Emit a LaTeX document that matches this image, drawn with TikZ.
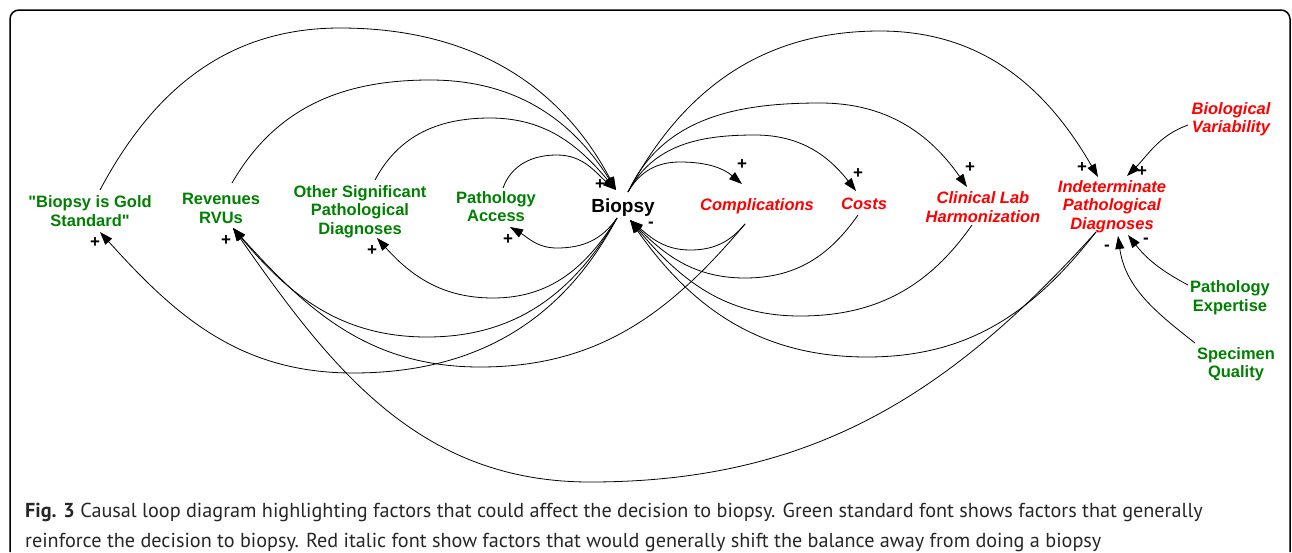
\documentclass[tikz,border=0pt]{standalone}
\usepackage{fontspec}
\setmainfont{Liberation Sans}
\newfontfamily\capfont{PT Sans}
\usetikzlibrary{arrows.meta}
\definecolor{cgreen}{RGB}{0,128,0}
\definecolor{cred}{RGB}{255,0,0}
\begin{document}
\begin{tikzpicture}[x=1pt,y=1pt,
  fac/.style={font=\bfseries\fontsize{16.5}{18.5}\selectfont, align=center, inner sep=0pt},
  gfac/.style={fac, text=cgreen},
  rfac/.style={fac, text=cred, font=\bfseries\itshape\fontsize{16.5}{18.5}\selectfont},
  sgn/.style={font=\bfseries\fontsize{17}{17}\selectfont, inner sep=0pt, text height=0.58em, text depth=0pt},
  link/.style={line width=0.8pt, -{Triangle[length=13pt,width=9pt]}},
  captxt/.style={anchor=base west, inner sep=0pt, font=\capfont\fontsize{20.2}{30}\selectfont, text=black!85},
]
\useasboundingbox (0,0) rectangle (1292,-552);
\draw[line width=1.5pt, rounded corners=9pt] (10,-552) -- (10,-10) -- (1290,-10) -- (1290,-552);

% factors
\node[gfac] (gold) at (90,-211) {\textquotedbl Biopsy is Gold\\Standard\textquotedbl};
\node[gfac] (rvu) at (221,-208.5) {Revenues\\RVUs};
\node[gfac] (other) at (360,-211.5) {Other Significant\\Pathological\\Diagnoses};
\node[gfac] (pa) at (496,-206.5) {Pathology\\Access};
\node[fac, font=\bfseries\fontsize{19}{20}\selectfont] (bio) at (623,-208) {Biopsy};
\node[rfac] (comp) at (757,-206) {Complications};
\node[rfac] (costs) at (864,-204) {Costs};
\node[rfac] (clin) at (983,-207) {Clinical Lab\\Harmonization};
\node[rfac] (indet) at (1112,-206.7) {Indeterminate\\Pathological\\Diagnoses};
\node[rfac] (biovar) at (1231,-119) {Biological\\Variability};
\node[gfac] (pexp) at (1230,-297.7) {Pathology\\Expertise};
\node[gfac] (spec) at (1236,-364) {Specimen\\Quality};

% connector end points
\coordinate (goldT) at ([shift={(10,21)}]gold.center);
\coordinate (goldB) at ([shift={(10,-21)}]gold.center);
\coordinate (rvuT) at ([shift={(11,25.5)}]rvu.center);
\coordinate (rvuB) at ([shift={(12,-19.5)}]rvu.center);
\coordinate (otherT) at ([shift={(15,31.5)}]other.center);
\coordinate (otherB) at ([shift={(17,-26.5)}]other.center);
\coordinate (paT) at ([shift={(7,18.5)}]pa.center);
\coordinate (paB) at ([shift={(14,-20.5)}]pa.center);
\coordinate (bioTL) at ([shift={(-7,18)}]bio.center);
\coordinate (bioTR) at ([shift={(5,16)}]bio.center);
\coordinate (bioBL) at ([shift={(-6,-10)}]bio.center);
\coordinate (bioBR) at ([shift={(7,-12)}]bio.center);
\coordinate (compT) at ([shift={(-15,22)}]comp.center);
\coordinate (compB) at ([shift={(-12,-18)}]comp.center);
\coordinate (costsT) at ([shift={(-8,13)}]costs.center);
\coordinate (costsB) at ([shift={(-6,-11)}]costs.center);
\coordinate (clinT) at ([shift={(-16,20)}]clin.center);
\coordinate (clinB) at ([shift={(-11,-18)}]clin.center);
\coordinate (indetTL) at ([shift={(-14,29.7)}]indet.center);
\coordinate (indetTR) at ([shift={(15,30.7)}]indet.center);
\coordinate (indetB) at ([shift={(-16,-25.3)}]indet.center);
\coordinate (indetBS) at ([shift={(6,-29.3)}]indet.center);
\coordinate (indetBR) at ([shift={(16,-28.3)}]indet.center);
\coordinate (biovarS) at ([shift={(-43,-6)}]biovar.center);
\coordinate (pexpS) at ([shift={(-42,12.7)}]pexp.center);
\coordinate (specS) at ([shift={(-41,21)}]spec.center);

% into Biopsy (top left)
\draw[link] (goldT) to[out=62,in=180] (340,-28) to[out=0,in=118] (bioTL);
\draw[link] (rvuT) to[out=60,in=180] (430,-80) to[out=0,in=122] (bioTL);
\draw[link] (otherT) to[out=62,in=180] (490,-118) to[out=0,in=130] (bioTL);
\draw[link] (paT) to[out=70,in=180] (557,-155) to[out=0,in=140] (bioTL);
% from Biopsy (top right)
\draw[link] (bioTR) to[out=60,in=180] (680,-162) to[out=0,in=140] (compT);
\draw[link] (bioTR) to[out=62,in=180] (755,-135) to[out=0,in=128] (costsT);
\draw[link] (bioTR) to[out=65,in=180] (820,-103) to[out=0,in=125] (clinT);
\draw[link] (bioTR) to[out=62,in=180] (880,-31) to[out=0,in=120] (indetTL);
% from Biopsy (bottom left)
\draw[link] (bioBL) to[out=235,in=0] (557,-248) to[out=180,in=330] (paB);
\draw[link] (bioBL) to[out=238,in=0] (493,-298) to[out=180,in=312] (otherB);
\draw[link] (bioBL) to[out=240,in=0] (427,-337) to[out=180,in=310] (rvuB);
\draw[link] (bioBL) to[out=242,in=0] (353,-373) to[out=180,in=312] (goldB);
% into Biopsy (bottom right)
\draw[link] (compB) to[out=230,in=0] (690,-250) to[out=180,in=320] (bioBR);
\draw[link] (costsB) to[out=235,in=0] (745,-278) to[out=180,in=315] (bioBR);
\draw[link] (clinB) to[out=235,in=0] (800,-316) to[out=180,in=310] (bioBR);
\draw[link] (indetB) to[out=232,in=0] (867,-357) to[out=180,in=305] (bioBR);
% into Revenues RVUs
\draw[link] (compB) to[out=230,in=0] (480,-367) to[out=180,in=312] (rvuB);
\draw[link] (indetB) to[out=228,in=0] (590,-482) to[out=180,in=305] (rvuB);
% into Indeterminate
\draw[link] (biovarS) to[out=200,in=45] (indetTR);
\draw[link] (pexpS) to[out=152,in=308] (indetBR);
\draw[link] (specS) to[out=142,in=278] (indetBS);

% polarities
\node[sgn] (s1) at (600,-187) {+};
\node[sgn] (s2) at (651,-225) {-};
\node[sgn] (s3) at (742,-167) {+};
\node[sgn] (s4) at (858,-176) {+};
\node[sgn] (s5) at (970,-170) {+};
\node[sgn] (s6) at (1082,-170) {+};
\node[sgn] (s7) at (1142,-174) {+};
\node[sgn] (s8) at (1107,-248) {-};
\node[sgn] (s9) at (1146,-241) {-};
\node[sgn] (s10) at (508,-242) {+};
\node[sgn] (s11) at (372,-253) {+};
\node[sgn] (s12) at (226,-243) {+};
\node[sgn] (s13) at (95,-245) {+};

% caption
\node[captxt] (cap1) at (25,-517) {\textbf{Fig. 3} Causal loop diagram highlighting factors that could affect the decision to biopsy. Green standard font shows factors that generally};
\node[captxt] (cap2) at (25,-547) {reinforce the decision to biopsy. Red italic font show factors that would generally shift the balance away from doing a biopsy};
\end{tikzpicture}
\end{document}
